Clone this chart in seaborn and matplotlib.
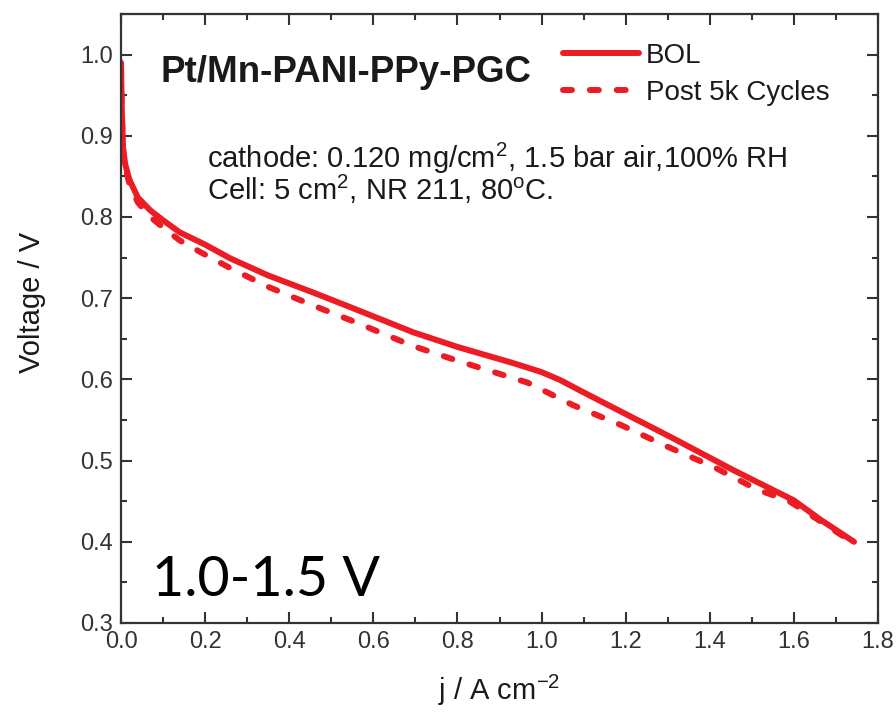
import matplotlib
matplotlib.use("Agg")
import matplotlib.pyplot as plt
import seaborn as sns
import pandas as pd
from matplotlib.ticker import MultipleLocator

# ---- data ----
j_bol = [0, 0.002, 0.005, 0.01, 0.02, 0.04, 0.07, 0.1, 0.14, 0.2, 0.26, 0.35, 0.457,
         0.55, 0.695, 0.8, 0.933, 1.0, 1.045, 1.1, 1.164, 1.307, 1.457, 1.6, 1.664, 1.743]
v_bol = [0.99, 0.93, 0.885, 0.865, 0.846, 0.824, 0.808, 0.796, 0.781, 0.766, 0.749, 0.728, 0.707,
         0.688, 0.658, 0.640, 0.620, 0.609, 0.599, 0.584, 0.567, 0.529, 0.488, 0.451, 0.427, 0.400]

j_post = [0, 0.002, 0.005, 0.01, 0.02, 0.04, 0.07, 0.1, 0.14, 0.188, 0.26, 0.35, 0.457,
          0.55, 0.695, 0.8, 0.967, 1.076, 1.188, 1.3, 1.41, 1.514, 1.586, 1.664, 1.743]
v_post = [0.985, 0.925, 0.882, 0.861, 0.841, 0.818, 0.800, 0.787, 0.771, 0.757, 0.737, 0.714, 0.691,
          0.672, 0.641, 0.623, 0.596, 0.568, 0.544, 0.517, 0.492, 0.464, 0.451, 0.425, 0.398]

series_names = ["BOL", "Post 5k Cycles"]
x_ticks = [0.0, 0.2, 0.4, 0.6, 0.8, 1.0, 1.2, 1.4, 1.6, 1.8]
y_ticks = [0.3, 0.4, 0.5, 0.6, 0.7, 0.8, 0.9, 1.0]

df = pd.concat([
    pd.DataFrame({"j": j_bol, "V": v_bol, "series": series_names[0]}),
    pd.DataFrame({"j": j_post, "V": v_post, "series": series_names[1]}),
], ignore_index=True)

sns.set_style("ticks")
plt.rcParams['font.family'] = ['Liberation Sans', 'DejaVu Sans']
plt.rcParams['mathtext.fontset'] = 'custom'
plt.rcParams['mathtext.rm'] = 'Liberation Sans'
plt.rcParams['mathtext.it'] = 'Liberation Sans'

RED = "#ec1c24"
TXT = "#1a1a1a"
LW = 4.3

fig = plt.figure(figsize=(8.96, 7.13), dpi=100)
ax = fig.add_axes([121/896, 1-623/713, (878-121)/896, (623-14)/713])

sns.lineplot(data=df, x="j", y="V", hue="series", style="series",
             palette={series_names[0]: RED, series_names[1]: RED},
             dashes={series_names[0]: "", series_names[1]: (1.5, 3.0)},
             linewidth=LW, estimator=None, sort=False, ax=ax, legend=True)
for ln in ax.get_lines():
    ln.set_dash_capstyle("round")
    ln.set_solid_capstyle("round")
    ln.set_solid_joinstyle("round")

ax.set_xlim(0, 1.8)
ax.set_ylim(0.3, 1.05)
ax.set_xticks(x_ticks)
ax.set_yticks(y_ticks)
ax.set_xticklabels([f"{t:.1f}" for t in x_ticks])
ax.set_yticklabels([f"{t:.1f}" for t in y_ticks])
ax.xaxis.set_minor_locator(MultipleLocator(0.1))
ax.yaxis.set_minor_locator(MultipleLocator(0.05))
ax.tick_params(which="both", direction="in", top=True, right=True, color="#333333", width=1.5)
ax.tick_params(which="major", length=8, labelsize=17, labelcolor="#333333", pad=6)
ax.tick_params(which="minor", length=4.5)
for s in ax.spines.values():
    s.set_linewidth(1.6)
    s.set_color("#333333")

ax.set_xlabel("j / A cm$^{-2}$", fontsize=21, color=TXT, labelpad=14)
ax.set_ylabel("Voltage / V", fontsize=21, color=TXT)
ax.yaxis.set_label_coords(-0.099, 0.527)

ax.text(160/896, 1-73/713, "Pt/Mn-PANI-PPy-PGC", transform=fig.transFigure,
        fontsize=26.5, fontweight="bold", color=TXT, va="center", ha="left")
ax.text(207/896, 1-158/713, "cathode: 0.120 mg/cm$^2$, 1.5 bar air,100% RH",
        transform=fig.transFigure, fontsize=21, color=TXT, va="center", ha="left")
ax.text(207/896, 1-189/713, "Cell: 5 cm$^2$, NR 211, 80$^{\\mathrm{o}}$C.",
        transform=fig.transFigure, fontsize=21, color=TXT, va="center", ha="left")
ax.text(152/896, 1-580/713, "1.0-1.5 V", transform=fig.transFigure,
        fontsize=40, color="black", va="center", ha="left", family="Lato")

leg = ax.legend(loc="upper left", bbox_to_anchor=(549/896, 1-29/713),
                bbox_transform=fig.transFigure, frameon=False, fontsize=20,
                handlelength=2.75, handletextpad=0.25, labelspacing=0.4, borderpad=0)
for t in leg.get_texts():
    t.set_color(TXT)
for h in leg.get_lines():
    h.set_linewidth(LW)
    h.set_dash_capstyle("round")
    h.set_solid_capstyle("round")

fig.savefig("out.png", dpi=100)
